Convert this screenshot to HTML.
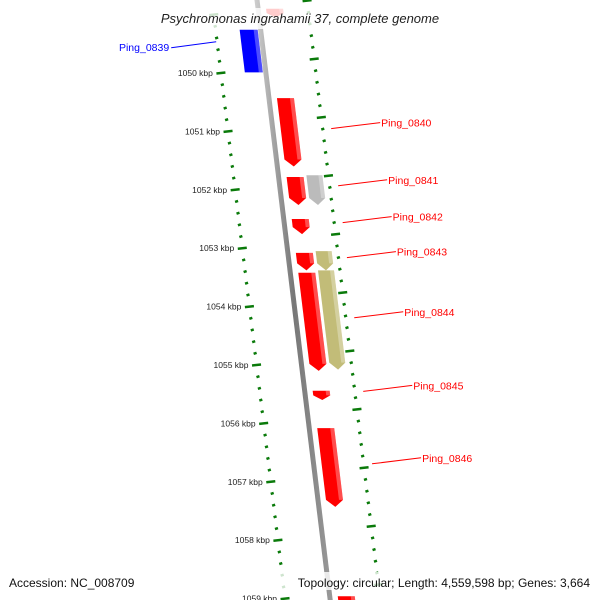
<!DOCTYPE html>
<html><head><meta charset="utf-8"><style>
body{margin:0;background:#fff;}
svg{display:block;font-family:"Liberation Sans","DejaVu Sans",sans-serif;}
</style></head><body>
<svg id="c" width="600" height="600" viewBox="0 0 600 600">
<defs>
<linearGradient id="bb" x1="0" x2="1"><stop offset="0" stop-color="#ccc"/><stop offset="0.5" stop-color="#777"/><stop offset="1" stop-color="#999"/></linearGradient>
</defs>
<g id="ticks"></g>
<g id="backbone"></g>
<g id="genes"></g>
<g id="labels"></g>
<rect x="128" y="8" width="345" height="21" fill="#fff" fill-opacity="0.8"/>
<text x="300" y="23" text-anchor="middle" font-size="13" font-style="italic" fill="#222">Psychromonas ingrahamii 37, complete genome</text>
<rect x="4" y="572" width="130" height="18" fill="#fff" fill-opacity="0.8"/>
<text x="9" y="587" font-size="12" fill="#111">Accession: NC_008709</text>
<rect x="256" y="572" width="340" height="18" fill="#fff" fill-opacity="0.8"/>
<text x="590" y="587" text-anchor="end" font-size="12" fill="#111">Topology: circular; Length: 4,559,598 bp; Genes: 3,664</text>
</svg>
<script>
const majorTicks=[1049,1050,1051,1052,1053,1054,1055,1056,1057,1058,1059];
const geneNames=["top-a","Ping_0839","Ping_0840","Ping_0841","grey-0841","Ping_0842","Ping_0843","khaki-0843","Ping_0844","khaki-0844","Ping_0845","Ping_0846","bottom-a"];
const geneStart=[1048.9,1049.26,1050.43,1051.78,1051.75,1052.5,1053.08,1053.05,1053.42,1053.38,1055.44,1056.08,1058.96];
const geneEnd=[1049.05,1049.99,1051.6,1052.26,1052.26,1052.76,1053.38,1053.38,1055.1,1055.08,1055.6,1057.43,1059.1];
const geneStrand=[1,-1,1,1,1,1,1,1,1,1,1,1,1];
const geneLane=[1,-1,1,1,2,1,1,2,1,2,1,1,1];
const geneColor=["#ff0000","#0000ff","#ff0000","#ff0000","#bbbbbb","#ff0000","#ff0000","#c2bc78","#ff0000","#c2bc78","#ff0000","#ff0000","#ff0000"];
const labelNames=["Ping_0839","Ping_0840","Ping_0841","Ping_0842","Ping_0843","Ping_0844","Ping_0845","Ping_0846"];
const labelKbp=[1049.62,1051.02,1052.0,1052.63,1053.23,1054.26,1055.52,1056.76];

const NS="http://www.w3.org/2000/svg";
function yOf(k){return 73+(k-1050)*58.4;}
function bx(y){return 257+0.122*y;}
function mk(t,a,p){const e=document.createElementNS(NS,t);for(const k in a)e.setAttribute(k,a[k]);p.appendChild(e);return e;}
const T=document.getElementById('ticks'),B=document.getElementById('backbone'),G=document.getElementById('genes'),L=document.getElementById('labels');
// backbone
const bb=mk('line',{x1:bx(-10),y1:-10,x2:bx(610),y2:610,stroke:'url(#bb)','stroke-width':5},B);


// ticks
for(let k=majorTicks[0];k<=majorTicks[majorTicks.length-1]+0.001;k+=0.2){
  const kk=Math.round(k*10)/10;const major=Math.abs(kk-Math.round(kk))<0.01;
  const y=yOf(kk);const xl=bx(y)-45;
  const len=major?9:3;
  const t=mk('line',{x1:xl-len/2,y1:y+0.5,x2:xl+len/2,y2:y-0.5,stroke:'#0a7a0a','stroke-width':2.5},T);
  
  
  const yr=y-14;const xr=bx(yr)+50;
  const t2=mk('line',{x1:xr-len/2,y1:yr+0.5,x2:xr+len/2,y2:yr-0.5,stroke:'#0a7a0a','stroke-width':2.5},T);
  
  
  if(major&&kk>=1050){
    const tx=mk('text',{x:xl-8,y:y+3,'text-anchor':'end','font-size':8.5,fill:'#222'},T);
    tx.textContent=Math.round(kk)+' kbp';
    
    
  }
}
// genes
function lanePos(l){if(l===-1)return[-21,-3];if(l===1)return[8,25];return[28,44];}
geneNames.forEach((n,i)=>{
  const y1=yOf(geneStart[i]),y2=yOf(geneEnd[i]);const [a,b]=lanePos(geneLane[i]);
  const s=0.122;const h=Math.min(7,(y2-y1)*0.5);
  let pts;
  if(geneStrand[i]>0){
    const yh=y2-h,ym=(a+b)/2;
    pts=[[bx(y1)+a,y1],[bx(y1)+b,y1],[bx(yh)+b,yh],[bx(y2)+ym,y2],[bx(yh)+a,yh]];
  }else{
    pts=[[bx(y1)+a,y1],[bx(y1)+b,y1],[bx(y2)+b,y2],[bx(y2)+a,y2]];
  }
  const p=mk('polygon',{points:pts.map(q=>q.join(',')).join(' '),fill:geneColor[i]},G);
  
  
  const yh2=geneStrand[i]>0?y2-h:y2;
  const hl=mk('polygon',{points:[[bx(y1)+b-4,y1],[bx(y1)+b,y1],[bx(yh2)+b,yh2],[bx(yh2)+b-4,yh2]].map(q=>q.join(',')).join(' '),fill:'#fff','fill-opacity':0.3},G);
  
  
});
// labels
labelNames.forEach((n,i)=>{
  const y=yOf(labelKbp[i]);const blue=i===0;
  let x1,y1,x2,y2,tx,ty;
  if(blue){x1=bx(y)-47;y1=y-9;x2=x1-45;y2=y-3;tx=x2-2;ty=y2+3;}
  else{x1=bx(y)+58;y1=y-4;x2=x1+49;y2=y-10;tx=x2+1;ty=y2+4;}
  const ln=mk('line',{x1,y1,x2,y2,stroke:blue?'#0000ff':'#ff0000','stroke-width':1},L);
  
  
  const t=mk('text',{x:tx,y:ty,'font-size':10.5,fill:blue?'#0000ff':'#ff0000','text-anchor':blue?'end':'start'},L);
  t.textContent=n;
  
  
});
</script>
</body></html>
